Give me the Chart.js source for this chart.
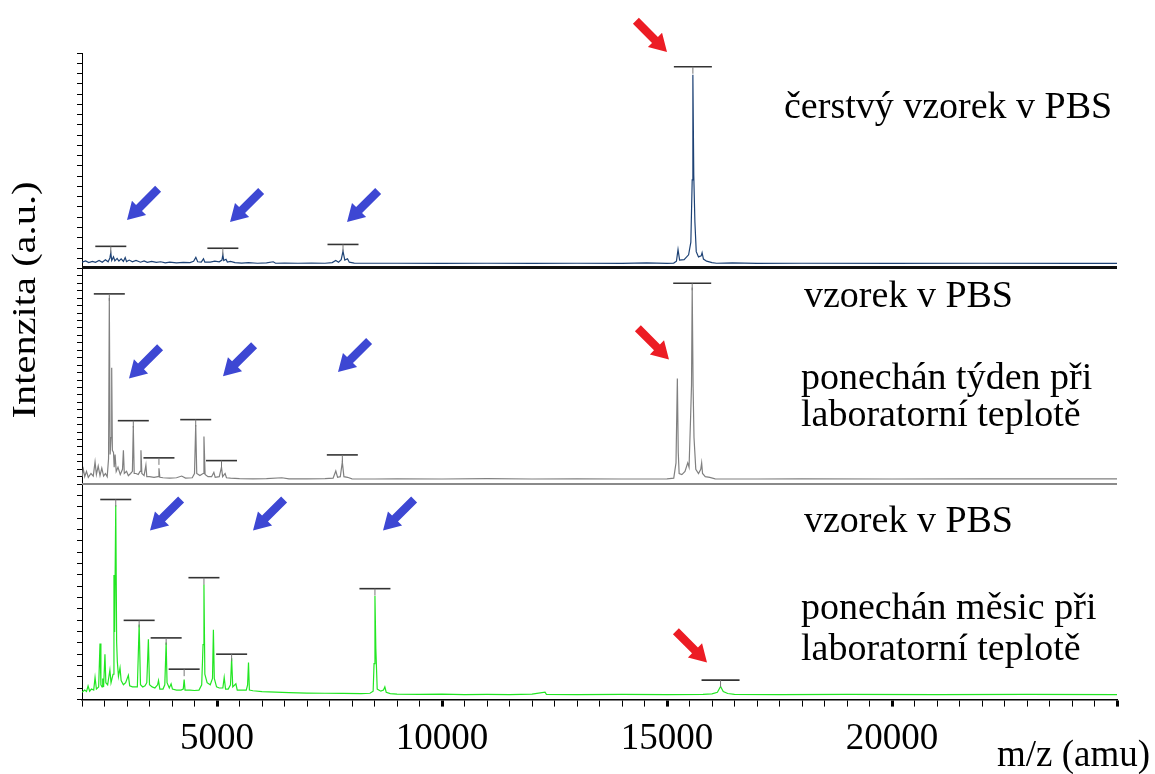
<!DOCTYPE html>
<html>
<head>
<meta charset="utf-8">
<script src="https://cdn.jsdelivr.net/npm/chart.js@4/dist/chart.umd.min.js"></script>
<style>
    body { margin: 0; background: #fff; }
</style>
</head>
<body>
<canvas id="myChart" width="1155" height="774"></canvas>
<script>
// spectra: [m/z, intensity in % of panel height]
const freshSpectrum = [
    [2000, 1.0], [2080, 1.6], [2150, 0.8], [2230, 1.4], [2300, 0.9], [2380, 1.8], [2450, 1.0], [2520, 2.2],
    [2580, 1.2], [2620, 3.0], [2640, 5.5], [2660, 1.8], [2700, 3.5], [2730, 1.6], [2780, 2.8], [2820, 1.5],
    [2870, 2.6], [2920, 1.4], [2960, 3.2], [2990, 1.3], [3050, 2.0], [3120, 1.2], [3200, 1.8], [3300, 1.0],
    [3380, 1.6], [3450, 0.9], [3550, 1.4], [3650, 0.9], [3750, 1.2], [3850, 0.7], [3950, 1.0], [4100, 0.7],
    [4250, 0.9], [4400, 0.8], [4480, 1.4], [4530, 3.3], [4570, 1.2], [4650, 1.0], [4700, 2.6], [4730, 1.0],
    [4850, 1.0], [4950, 1.5], [5050, 1.2], [5110, 2.0], [5130, 4.5], [5150, 1.8], [5200, 2.4], [5230, 1.1],
    [5300, 1.4], [5400, 0.8], [5550, 0.6], [5700, 0.8], [5900, 0.5], [6100, 0.7], [6250, 1.2], [6300, 0.5],
    [6500, 0.6], [6800, 0.5], [7100, 0.6], [7400, 0.5], [7560, 0.8], [7640, 1.8], [7700, 1.0], [7760, 2.2],
    [7800, 6.2], [7840, 2.0], [7900, 2.6], [7940, 1.0], [8050, 0.6], [8300, 0.5], [9000, 0.5], [10000, 0.4],
    [11000, 0.5], [12000, 0.4], [13000, 0.5], [14000, 0.4], [14550, 0.7], [15000, 0.4], [15150, 0.6],
    [15210, 1.5], [15245, 7.0], [15280, 2.0], [15380, 2.2], [15480, 4.5], [15530, 10.5], [15560, 40],
    [15575, 89.7], [15595, 42], [15620, 20], [15650, 6], [15700, 3.5], [15760, 4], [15780, 5.5], [15810, 2.5],
    [15880, 1.5], [16000, 0.8], [16100, 0.5], [16450, 0.7], [17000, 0.4], [18000, 0.5], [20000, 0.4],
    [22000, 0.5], [24000, 0.4], [25000, 0.4]
];
const weekSpectrum = [
    [2000, 1.5], [2030, 5.0], [2060, 1.5], [2100, 4.0], [2140, 1.2], [2200, 3.0], [2250, 1.8], [2290, 8.5],
    [2320, 2.5], [2360, 6.5], [2400, 2.0], [2440, 5.5], [2480, 1.8], [2520, 3.0], [2560, 1.5], [2590, 10],
    [2607, 86], [2625, 12], [2645, 20], [2660, 53], [2675, 14], [2700, 13], [2715, 6], [2735, 12], [2760, 4],
    [2800, 6], [2850, 2.5], [2900, 5], [2920, 14], [2940, 3], [2990, 4], [3030, 2], [3080, 3], [3120, 4],
    [3140, 25.5], [3160, 3], [3200, 3], [3250, 2.5], [3290, 4], [3310, 14], [3330, 3], [3380, 2], [3420, 7],
    [3440, 1.5], [3500, 1.5], [3600, 1.2], [3690, 1.5], [3710, 5.5], [3730, 1.2], [3800, 1.0], [3950, 0.8],
    [4100, 1.0], [4215, 1.8], [4300, 0.8], [4450, 1.0], [4500, 3], [4527, 26], [4550, 3], [4620, 2],
    [4690, 3], [4710, 20.5], [4735, 2.5], [4800, 1.5], [4880, 1.5], [4930, 3.5], [4960, 1.2], [5050, 1.5],
    [5100, 6], [5125, 1.5], [5180, 3], [5210, 1.0], [5300, 0.8], [5500, 0.6], [5800, 0.5], [6100, 0.6],
    [6440, 1.0], [6600, 0.5], [7000, 0.5], [7400, 0.6], [7580, 0.8], [7640, 4.2], [7680, 1.2], [7740, 1.5],
    [7785, 8.5], [7820, 1.5], [7900, 1.2], [8000, 0.5], [8500, 0.4], [9000, 0.5], [10000, 0.4], [11000, 0.6],
    [12000, 0.4], [13000, 0.5], [14000, 0.4], [15000, 0.5], [15150, 0.8], [15200, 8], [15230, 48],
    [15250, 13], [15270, 3], [15330, 2.5], [15400, 4], [15460, 8], [15490, 6], [15525, 30], [15545, 45],
    [15560, 91], [15580, 44], [15600, 20], [15640, 5], [15700, 3], [15750, 5], [15770, 8], [15790, 3],
    [15850, 1.5], [15950, 1.2], [16070, 0.5], [17000, 0.4], [18000, 0.5], [20000, 0.4], [22000, 0.5],
    [24000, 0.5], [25000, 0.5]
];
const monthSpectrum = [
    [2000, 1.5], [2060, 2.5], [2100, 1.8], [2135, 4.5], [2170, 2.0], [2210, 3.0], [2260, 2.5], [2290, 8.5],
    [2320, 3.0], [2370, 4.0], [2400, 24.5], [2420, 5], [2445, 4], [2460, 8], [2480, 4], [2510, 19.5],
    [2530, 6], [2570, 5], [2620, 12], [2645, 6], [2690, 10], [2710, 57], [2725, 30], [2750, 90], [2770, 25],
    [2785, 16], [2810, 9], [2845, 13], [2870, 7], [2920, 5], [2970, 6], [3030, 9.5], [3060, 4.5], [3120, 4],
    [3180, 4], [3230, 4], [3270, 33.5], [3300, 5], [3350, 4], [3400, 4.5], [3440, 6], [3475, 26.5], [3500, 5],
    [3560, 4], [3620, 3.5], [3680, 5], [3700, 7], [3730, 3], [3800, 3], [3840, 5], [3870, 25], [3890, 6],
    [3940, 3.5], [3980, 5.5], [4010, 3], [4100, 2.5], [4200, 2.5], [4250, 3], [4270, 7.5], [4290, 2.5],
    [4400, 2.5], [4500, 2.3], [4600, 2.5], [4660, 5], [4690, 24], [4710, 52.5], [4730, 10], [4780, 6],
    [4850, 5], [4900, 8], [4920, 31], [4940, 8], [4990, 4], [5050, 3.5], [5130, 3.5], [5160, 8.5], [5190, 3],
    [5250, 3], [5300, 5], [5325, 17.5], [5350, 4], [5420, 5.5], [5450, 2.5], [5550, 2.5], [5650, 2.5],
    [5680, 5], [5700, 15.5], [5720, 2.5], [5800, 2.2], [6000, 1.8], [6300, 1.5], [6600, 1.3], [7000, 1.1],
    [7400, 1.0], [7800, 0.9], [8200, 0.8], [8400, 1.0], [8470, 2.0], [8490, 15], [8510, 47], [8530, 22],
    [8560, 3], [8640, 2], [8700, 2.5], [8730, 4], [8760, 1.5], [8850, 0.8], [9000, 0.6], [9500, 0.5],
    [10000, 0.6], [10500, 0.4], [11000, 0.5], [11500, 0.4], [12000, 0.6], [12290, 1.5], [12320, 0.5],
    [13000, 0.4], [14000, 0.5], [15000, 0.4], [15800, 0.5], [16000, 0.7], [16120, 1.5], [16190, 4.2],
    [16250, 1.8], [16350, 0.9], [16500, 0.5], [17500, 0.4], [19000, 0.5], [21000, 0.4], [23000, 0.5],
    [25000, 0.4]
];

// labelled peaks: [m/z, level of the bar]
const freshMarks = [[2640, 8.5], [5130, 7.6], [7800, 9.4], [15575, 93.5]];
const weekMarks = [[2607, 88], [3140, 28], [3710, 10.4], [4527, 28.5], [5100, 9.1], [7785, 11.8], [15560, 93]];
const monthMarks = [[2750, 92.7], [3270, 35.5], [3870, 27.2], [4270, 12.4], [4710, 55.7], [5325, 19.5], [8510, 50.5], [16190, 7.2]];

// arrow tips: [m/z, intensity]
const freshBlueArrows = [[3000, 21], [5290, 20], [7890, 20]];
const freshRedArrows = [[15000, 100.5]];
const weekBlueArrows = [[3044, 48], [5133, 49], [7689, 51]];
const weekRedArrows = [[15044, 57]];
const monthBlueArrows = [[3511, 78], [5800, 78], [8689, 78]];
const monthRedArrows = [[15889, 15.6]];

const panelTexts = [
    ['čerstvý vzorek v PBS'],
    ['vzorek v PBS', 'ponechán týden při', 'laboratorní teplotě'],
    ['vzorek v PBS', 'ponechán měsic při', 'laboratorní teplotě']
];
const xTickLabels = [5000, 10000, 15000, 20000];
const xTitle = 'm/z (amu)';
const yTitle = 'Intenzita (a.u.)';

const serif = "'Liberation Serif', 'Times New Roman', serif";

function toPoints(spectrum) {
    return spectrum.map(p => ({x: p[0], y: p[1]}));
}

function drawArrow(ctx, x, y, ux, uy, color) {
    const len = 44, headLen = 17, headW = 10, shaftW = 4.2;
    const nx = -uy, ny = ux;
    const bx = x - ux * headLen, by = y - uy * headLen;
    const tx = x - ux * len, ty = y - uy * len;
    ctx.beginPath();
    ctx.moveTo(x, y);
    ctx.lineTo(bx + nx * headW, by + ny * headW);
    ctx.lineTo(bx + nx * shaftW, by + ny * shaftW);
    ctx.lineTo(tx + nx * shaftW, ty + ny * shaftW);
    ctx.lineTo(tx - nx * shaftW, ty - ny * shaftW);
    ctx.lineTo(bx - nx * shaftW, by - ny * shaftW);
    ctx.lineTo(bx - nx * headW, by - ny * headW);
    ctx.closePath();
    ctx.fillStyle = color;
    ctx.fill();
}

const panels = [
    {axis: 'yFresh', marks: freshMarks, blue: freshBlueArrows, red: freshRedArrows, texts: panelTexts[0],
        textPos: [[784, 65]]},
    {axis: 'yWeek', marks: weekMarks, blue: weekBlueArrows, red: weekRedArrows, texts: panelTexts[1],
        textPos: [[804, 38], [801, 120], [801, 157]]},
    {axis: 'yMonth', marks: monthMarks, blue: monthBlueArrows, red: monthRedArrows, texts: panelTexts[2],
        textPos: [[804, 48], [801, 135], [801, 176]]}
];

const annotations = {
    id: 'annotations',
    afterDatasetsDraw(chart) {
        const ctx = chart.ctx;
        const xs = chart.scales.x;
        const area = chart.chartArea;
        ctx.save();

        // panel separators
        const top = chart.scales.yFresh, mid = chart.scales.yWeek;
        ctx.strokeStyle = '#111';
        ctx.lineWidth = 3;
        ctx.beginPath();
        ctx.moveTo(area.left, top.bottom - 1);
        ctx.lineTo(area.right, top.bottom - 1);
        ctx.stroke();
        ctx.strokeStyle = '#8a8a8a';
        ctx.lineWidth = 2;
        ctx.beginPath();
        ctx.moveTo(area.left, mid.bottom);
        ctx.lineTo(area.right, mid.bottom);
        ctx.stroke();

        panels.forEach(panel => {
            const ys = chart.scales[panel.axis];
            // peak bars
            panel.marks.forEach(m => {
                const px = xs.getPixelForValue(m[0]);
                const py = ys.getPixelForValue(m[1]);
                const half = m[0] > 14000 ? 19 : 15.5;
                ctx.strokeStyle = '#333';
                ctx.lineWidth = 1.6;
                ctx.beginPath();
                ctx.moveTo(px - half, py);
                ctx.lineTo(px + half, py);
                ctx.stroke();
                ctx.strokeStyle = '#777';
                ctx.lineWidth = 1;
                ctx.beginPath();
                ctx.moveTo(px, py);
                ctx.lineTo(px, py + 7);
                ctx.stroke();
            });
            const s = Math.SQRT1_2;
            panel.blue.forEach(a => {
                drawArrow(ctx, xs.getPixelForValue(a[0]), ys.getPixelForValue(a[1]), -s, s, '#3d47d3');
            });
            panel.red.forEach(a => {
                drawArrow(ctx, xs.getPixelForValue(a[0]), ys.getPixelForValue(a[1]), s, s, '#ec1c24');
            });
            // descriptions
            ctx.fillStyle = '#000';
            ctx.font = '38px ' + serif;
            ctx.textAlign = 'left';
            ctx.textBaseline = 'alphabetic';
            panel.texts.forEach((t, i) => {
                ctx.fillText(t, panel.textPos[i][0], ys.top + panel.textPos[i][1]);
            });
        });

        // axis titles
        ctx.fillStyle = '#000';
        ctx.font = '34px ' + serif;
        ctx.textAlign = 'center';
        ctx.save();
        ctx.translate(35, 300);
        ctx.rotate(-Math.PI / 2);
        ctx.scale(1.19, 1);
        ctx.fillText(yTitle, 0, 0);
        ctx.restore();
        ctx.font = '37px ' + serif;
        ctx.textAlign = 'right';
        ctx.fillText(xTitle, 1150, 766);
        ctx.restore();
    }
};

function panelAxis(weight, count) {
    return {
        type: 'linear',
        position: 'left',
        stack: 'spectra',
        stackWeight: 1,
        weight: weight,
        min: -2,
        max: 100,
        border: {display: true, color: '#000', width: 1},
        grid: {drawOnChartArea: false, drawTicks: true, tickLength: 5, tickColor: '#000', tickWidth: 1},
        ticks: {display: false, count: count, maxTicksLimit: 100}
    };
}

const ctx = document.getElementById('myChart');
const myChart = new Chart(ctx, {
    type: 'line',
    data: {
        datasets: [
            {label: 'čerstvý', data: toPoints(freshSpectrum), yAxisID: 'yFresh', borderColor: '#1d4275'},
            {label: 'týden', data: toPoints(weekSpectrum), yAxisID: 'yWeek', borderColor: '#808080'},
            {label: 'měsíc', data: toPoints(monthSpectrum), yAxisID: 'yMonth', borderColor: '#22e622'}
        ]
    },
    options: {
        responsive: false,
        animation: false,
        elements: {
            line: {borderWidth: 1.2, tension: 0, fill: false},
            point: {radius: 0}
        },
        layout: {padding: {left: 77, right: 38, top: 53, bottom: 3}},
        plugins: {legend: {display: false}, tooltip: {enabled: false}},
        scales: {
            x: {
                type: 'linear',
                min: 2000,
                max: 25000,
                border: {display: true, color: '#000', width: 1.5},
                grid: {
                    drawOnChartArea: false,
                    tickLength: 7,
                    tickColor: '#000',
                    tickWidth: c => (c.tick && c.tick.value % 5000 === 0 ? 3 : 1)
                },
                ticks: {
                    stepSize: 500,
                    autoSkip: false,
                    maxRotation: 0,
                    padding: 10,
                    color: '#000',
                    font: {family: serif, size: 37},
                    callback: value => (xTickLabels.includes(value) ? String(value) : '')
                }
            },
            yMonth: panelAxis(1, 20),
            yWeek: panelAxis(2, 30),
            yFresh: panelAxis(3, 22)
        }
    },
    plugins: [annotations]
});
</script>
</body>
</html>
